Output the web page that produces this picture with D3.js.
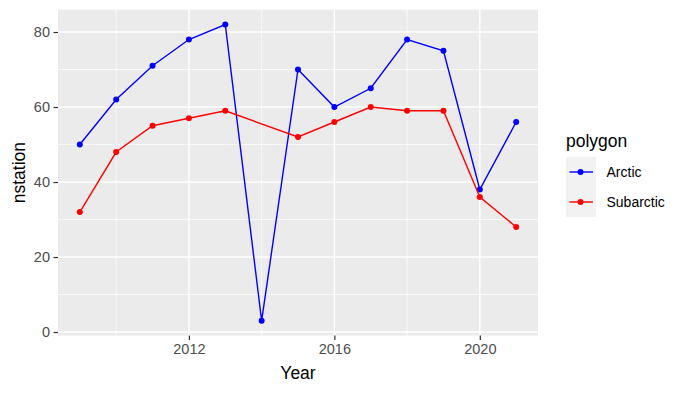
<!DOCTYPE html>
<html>
<head>
<meta charset="utf-8">
<script src="https://cdn.jsdelivr.net/npm/d3@7"></script>
<style>
	body { margin: 0; background: #fff; }
	text { font-family: "Liberation Sans", Arial, sans-serif; }
	.tick-label { fill: #4D4D4D; font-size: 14.5px; }
	.axis-title { fill: #000; font-size: 17.5px; }
	.legend-title { fill: #000; font-size: 17.5px; }
	.legend-text { fill: #000; font-size: 14px; }
</style>
</head>
<body>
<div id="chart"></div>
<script>

/////////////////////// Data //////////////////////////

var arcticYears = [2009, 2010, 2011, 2012, 2013, 2014, 2015, 2016, 2017, 2018, 2019, 2020, 2021],
	arcticValues = [50, 62, 71, 78, 82, 3, 70, 60, 65, 78, 75, 38, 56];

var subarcticYears = [2009, 2010, 2011, 2012, 2013, 2015, 2016, 2017, 2018, 2019, 2020, 2021],
	subarcticValues = [32, 48, 55, 57, 59, 52, 56, 60, 59, 59, 36, 28];

var polygons = ["Arctic", "Subarctic"],
	polygonColors = ["#0000FF", "#FF0000"];

var xTicks = [2012, 2016, 2020],
	xMinorTicks = [2010, 2014, 2018],
	yTicks = [0, 20, 40, 60, 80],
	yMinorTicks = [10, 30, 50, 70];

/////////////////////// Setup //////////////////////////

var width = 688,
	height = 393,
	panel = { left: 58, right: 538, top: 9.7, bottom: 335.6 };

var svg = d3.select("#chart").append("svg")
	.attr("width", width)
	.attr("height", height);

var series = [
	{ name: polygons[0], years: arcticYears, values: arcticValues },
	{ name: polygons[1], years: subarcticYears, values: subarcticValues }
];

//ggplot style 5% expansion of the data range
var allYears = arcticYears.concat(subarcticYears),
	allValues = arcticValues.concat(subarcticValues),
	xExt = d3.extent(allYears),
	yExt = d3.extent(allValues),
	xPad = (xExt[1] - xExt[0]) * 0.05,
	yPad = (yExt[1] - yExt[0]) * 0.05;

var xScale = d3.scaleLinear()
	.domain([xExt[0] - xPad, xExt[1] + xPad])
	.range([panel.left, panel.right]);

var yScale = d3.scaleLinear()
	.domain([yExt[0] - yPad, yExt[1] + yPad])
	.range([panel.bottom, panel.top]);

var colorScale = d3.scaleOrdinal()
	.domain(polygons)
	.range(polygonColors);

/////////////////////// Panel //////////////////////////

svg.append("rect")
	.attr("x", panel.left)
	.attr("y", panel.top)
	.attr("width", panel.right - panel.left)
	.attr("height", panel.bottom - panel.top)
	.style("fill", "#EBEBEB");

//Minor grid
svg.selectAll(".grid-minor-y")
	.data(yMinorTicks)
	.enter().append("line")
	.attr("x1", panel.left).attr("x2", panel.right)
	.attr("y1", function(d) { return yScale(d); })
	.attr("y2", function(d) { return yScale(d); })
	.style("stroke", "#fff").style("stroke-width", 0.7);

svg.selectAll(".grid-minor-x")
	.data(xMinorTicks)
	.enter().append("line")
	.attr("y1", panel.top).attr("y2", panel.bottom)
	.attr("x1", function(d) { return xScale(d); })
	.attr("x2", function(d) { return xScale(d); })
	.style("stroke", "#fff").style("stroke-width", 0.7);

//Major grid
svg.selectAll(".grid-major-y")
	.data(yTicks)
	.enter().append("line")
	.attr("x1", panel.left).attr("x2", panel.right)
	.attr("y1", function(d) { return yScale(d); })
	.attr("y2", function(d) { return yScale(d); })
	.style("stroke", "#fff").style("stroke-width", 1.4);

svg.selectAll(".grid-major-x")
	.data(xTicks)
	.enter().append("line")
	.attr("y1", panel.top).attr("y2", panel.bottom)
	.attr("x1", function(d) { return xScale(d); })
	.attr("x2", function(d) { return xScale(d); })
	.style("stroke", "#fff").style("stroke-width", 1.4);

/////////////////////// Axes //////////////////////////

var xAxis = svg.append("g")
	.attr("transform", "translate(0," + panel.bottom + ")")
	.call(d3.axisBottom(xScale).tickValues(xTicks).tickFormat(d3.format("d")).tickSize(4.5).tickPadding(3.5));

var yAxis = svg.append("g")
	.attr("transform", "translate(" + panel.left + ",0)")
	.call(d3.axisLeft(yScale).tickValues(yTicks).tickSize(4.5).tickPadding(3.5));

[xAxis, yAxis].forEach(function(ax) {
	ax.select(".domain").remove();
	ax.selectAll(".tick line").style("stroke", "#333333").style("stroke-width", 1.2);
	ax.selectAll(".tick text").attr("class", "tick-label").style("font-family", null).style("font-size", null);
	ax.attr("font-family", null).attr("font-size", null);
});

//Axis titles
svg.append("text")
	.attr("class", "axis-title")
	.attr("x", (panel.left + panel.right) / 2)
	.attr("y", 379)
	.style("text-anchor", "middle")
	.text("Year");

svg.append("text")
	.attr("class", "axis-title")
	.attr("transform", "translate(" + 25 + "," + ((panel.top + panel.bottom) / 2) + ") rotate(-90)")
	.style("text-anchor", "middle")
	.text("nstation");

/////////////////////// Lines //////////////////////////

var line = d3.line()
	.x(function(d) { return xScale(d.year); })
	.y(function(d) { return yScale(d.value); });

series.forEach(function(s) {
	var pts = s.years.map(function(y, i) { return { year: y, value: s.values[i] }; });

	svg.append("path")
		.datum(pts)
		.attr("d", line)
		.style("fill", "none")
		.style("stroke", colorScale(s.name))
		.style("stroke-width", 1.4);

	svg.selectAll(".dot-" + s.name)
		.data(pts)
		.enter().append("circle")
		.attr("cx", function(d) { return xScale(d.year); })
		.attr("cy", function(d) { return yScale(d.value); })
		.attr("r", 3)
		.style("fill", colorScale(s.name));
});

/////////////////////// Legend //////////////////////////

var legendWrapper = svg.append("g").attr("transform", "translate(" + 566 + "," + 0 + ")");

legendWrapper.append("text")
	.attr("class", "legend-title")
	.attr("x", 0)
	.attr("y", 146.5)
	.text("polygon");

var keySize = 30,
	keyTop = 157;

var legendKey = legendWrapper.selectAll(".legend-key")
	.data(polygons)
	.enter().append("g")
	.attr("transform", function(d, i) { return "translate(0," + (keyTop + i * keySize) + ")"; });

legendKey.append("rect")
	.attr("width", keySize)
	.attr("height", keySize)
	.style("fill", "#F2F2F2");

legendKey.append("line")
	.attr("x1", 3.5).attr("x2", 27)
	.attr("y1", keySize / 2).attr("y2", keySize / 2)
	.style("stroke", function(d) { return colorScale(d); })
	.style("stroke-width", 1.4);

legendKey.append("circle")
	.attr("cx", keySize / 2 - 0.5)
	.attr("cy", keySize / 2)
	.attr("r", 3)
	.style("fill", function(d) { return colorScale(d); });

legendKey.append("text")
	.attr("class", "legend-text")
	.attr("x", 40.5)
	.attr("y", keySize / 2)
	.attr("dy", "0.35em")
	.text(function(d) { return d; });

</script>
</body>
</html>
